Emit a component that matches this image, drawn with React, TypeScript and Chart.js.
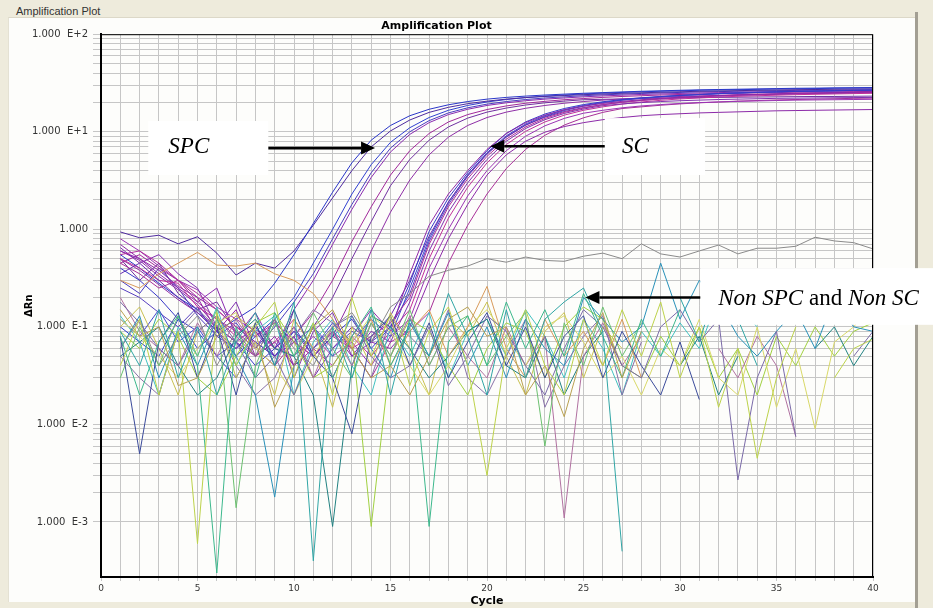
import React, { useEffect, useRef } from 'react';
import { Chart, registerables } from 'chart.js';

Chart.register(...registerables);

// ---------------- data ----------------
const cycles = [1,2,3,4,5,6,7,8,9,10,11,12,13,14,15,16,17,18,19,20,21,22,23,24,25,26,27,28,29,30,31,32,33,34,35,36,37,38,39,40];

// SPC amplification curves
const spc1 = [0.55,0.40,0.28,0.20,0.15,0.09,0.12,0.16,0.28,0.55, 1.15,2.4,4.8,8.2,11.6,14.6,17.0,18.9,20.4,21.6, 22.5,23.2,23.8,24.3,24.8,25.2,25.6,26.0,26.3,26.6, 26.9,27.1,27.3,27.5,27.7,27.9,28.0,28.2,28.3,28.4];
const spc2 = [0.94,0.82,0.87,0.71,0.84,0.57,0.34,0.45,0.40,0.60, 1.1,2.1,4.0,7.0,10.2,13.2,15.8,17.8,19.4,20.6, 21.6,22.4,23.0,23.5,24.0,24.4,24.8,25.1,25.4,25.7, 26.0,26.2,26.4,26.6,26.8,27.0,27.1,27.3,27.4,27.5];
const spc3 = [0.10,0.07,0.05,0.12,0.06,0.09,0.05,0.08,0.12,0.20, 0.45,1.0,2.3,4.6,7.8,11.0,14.0,16.6,18.6,20.2, 21.4,22.4,23.2,23.8,24.4,24.9,25.3,25.7,26.0,26.3, 26.6,26.8,27.0,27.2,27.4,27.6,27.7,27.9,28.0,28.1];
const spc4 = [0.60,0.50,0.35,0.25,0.18,0.25,0.08,0.14,0.06,0.15, 0.30,0.70,1.6,3.4,6.2,9.4,12.4,15.0,17.0,18.6, 19.8,20.8,21.6,22.2,22.8,23.3,23.7,24.1,24.4,24.7, 25.0,25.2,25.4,25.6,25.8,26.0,26.1,26.3,26.4,26.5];
const spc5 = [0.45,0.55,0.40,0.30,0.20,0.15,0.10,0.07,0.05,0.08, 0.14,0.30,0.75,1.7,3.6,6.4,9.6,12.6,15.0,16.9, 18.4,19.6,20.5,21.3,21.9,22.5,23.0,23.4,23.8,24.1, 24.4,24.6,24.8,25.0,25.2,25.4,25.5,25.7,25.8,25.9];
const spc6 = [0.30,0.22,0.40,0.25,0.13,0.08,0.11,0.06,0.10,0.18, 0.35,0.80,1.8,3.8,6.8,10.0,13.0,15.6,17.6,19.2, 20.4,21.4,22.2,22.8,23.4,23.9,24.3,24.7,25.0,25.3, 25.6,25.8,26.0,26.2,26.4,26.5,26.7,26.8,26.9,27.0];
const spc7 = [0.50,0.30,0.45,0.22,0.15,0.18,0.09,0.05,0.07,0.04, 0.10,0.20,0.50,1.2,2.8,5.2,8.2,11.2,13.8,15.9, 17.5,18.8,19.8,20.6,21.3,21.5,21.7,21.9,22.1,22.2, 22.4,22.5,22.6,22.7,22.8,22.9,23.0,23.0,23.1,23.2];
const mid1 = [0.50,0.38,0.27,0.19,0.14,0.10,0.07,0.10,0.06,0.09, 0.05,0.08,0.20,0.60,1.5,3.2,5.8,8.8,11.6,14.0, 15.9,17.4,18.6,19.6,20.4,21.1,21.7,22.2,22.6,23.0, 23.3,23.6,23.9,24.1,24.3,24.5,24.7,24.9,25.0,25.1];

// SC amplification curves
const sc1 = [0.70,0.50,0.38,0.26,0.20,0.09,0.15,0.05,0.12,0.04, 0.10,0.03,0.08,0.15,0.09,0.35,1.1,2.3,4.0,6.6, 9.6,12.4,14.8,16.8,18.3,19.5,20.5,21.3,22.0,22.6, 23.1,23.5,23.9,24.2,24.5,24.8,25.0,25.2,25.4,25.6];
const sc2 = [0.40,0.30,0.20,0.12,0.09,0.05,0.07,0.04,0.06,0.10, 0.05,0.08,0.12,0.06,0.10,0.28,0.95,2.1,3.8,6.4, 9.6,12.6,15.2,17.3,19.0,20.3,21.4,22.3,23.0,23.6, 24.1,24.6,25.0,25.3,25.6,25.9,26.1,26.3,26.5,26.7];
const sc3 = [0.55,0.60,0.45,0.30,0.22,0.15,0.10,0.08,0.11,0.07, 0.05,0.09,0.06,0.08,0.11,0.20,0.70,1.7,3.3,5.6, 8.4,11.2,13.7,15.8,17.5,18.9,20.0,20.9,21.7,22.3, 22.8,23.3,23.7,24.0,24.3,24.6,24.8,25.0,25.2,25.3];
const sc4 = [0.65,0.45,0.55,0.35,0.25,0.10,0.18,0.06,0.12,0.03, 0.09,0.14,0.05,0.09,0.07,0.18,0.60,1.5,3.0,5.2, 8.0,10.8,13.3,15.4,17.1,18.5,19.3,19.9,20.4,20.8, 21.1,21.4,21.6,21.8,22.0,22.1,22.2,22.3,22.4,22.5];
const sc5 = [0.35,0.45,0.30,0.20,0.14,0.09,0.06,0.10,0.05,0.08, 0.03,0.06,0.10,0.07,0.13,0.30,0.85,1.9,3.6,6.0, 8.9,11.7,14.1,16.1,17.7,19.0,20.1,21.0,21.7,22.3, 22.8,23.3,23.7,24.0,24.3,24.6,24.8,25.0,25.2,25.4];
const sc6 = [0.50,0.40,0.30,0.28,0.16,0.12,0.08,0.05,0.07,0.12, 0.06,0.04,0.08,0.05,0.09,0.15,0.50,1.3,2.7,4.8, 7.4,10.1,12.6,14.8,16.6,18.0,19.2,20.2,21.0,21.7, 22.2,22.7,23.1,23.4,23.7,24.0,24.2,24.4,24.6,24.8];
const sc7 = [0.12,0.08,0.15,0.07,0.10,0.05,0.03,0.07,0.05,0.09, 0.06,0.11,0.07,0.12,0.08,0.25,0.80,1.9,3.6,6.1, 9.1,12.0,14.6,16.8,18.6,20.0,21.2,22.1,22.9,23.5, 24.0,24.5,24.9,25.3,25.6,25.9,26.1,26.3,26.5,26.7];
const sc8 = [0.80,0.60,0.42,0.30,0.24,0.16,0.12,0.09,0.06,0.05, 0.08,0.05,0.07,0.04,0.08,0.12,0.40,1.0,2.2,4.0, 6.4,9.0,11.5,13.7,15.5,16.6,17.6,18.4,19.0,19.5, 19.9,20.2,20.5,20.7,20.9,21.1,21.2,21.3,21.4,21.5];
const sc9 = [0.60,0.48,0.33,0.24,0.17,0.10,0.07,0.05,0.08,0.04, 0.06,0.09,0.05,0.07,0.06,0.10,0.30,0.80,1.8,3.6, 5.8,8.0,9.9,11.3,12.4,13.3,14.0,14.6,15.0,15.3, 15.6,15.8,16.0,16.2,16.4,16.5,16.6,16.7,16.8,16.9];
const sc10 = [0.45,0.35,0.25,0.30,0.18,0.12,0.09,0.06,0.04,0.07, 0.05,0.08,0.06,0.03,0.07,0.09,0.14,0.45,1.1,2.3, 4.2,6.6,9.2,11.7,13.9,15.8,17.3,18.0,18.7,19.3, 19.8,20.2,20.6,20.9,21.2,21.4,21.6,21.8,22.0,22.1];
const sc11 = [0.25,0.20,0.14,0.10,0.16,0.08,0.06,0.09,0.05,0.07, 0.10,0.06,0.09,0.07,0.10,0.22,0.75,1.8,3.5,5.9, 8.8,11.7,14.3,16.5,18.3,19.8,21.0,22.0,22.8,23.5, 24.1,24.6,25.0,25.4,25.7,26.0,26.2,26.4,26.6,26.8];

// Non SPC / Non SC (noise) curves
const n1 = [0.09,0.04,0.15,0.03,0.10,0.02,0.07,0.14,0.04,0.18, 0.0004,0.10,0.03,0.15,0.02,0.12,0.05,0.22,0.08,0.02, 0.15,0.03,0.12,0.18,0.25,0.09,0.0005,null,null,0.20, 0.07,0.30,0.12,0.04,null,null,0.11,null,null,null];
const n2 = [0.04,0.12,0.02,0.09,0.0006,0.14,0.04,0.10,0.18,0.03, 0.11,0.02,0.20,0.05,0.13,0.025,0.09,0.16,0.04,0.003, 0.06,0.15,0.04,0.02,0.12,0.04,0.15,0.05,0.18,0.03, 0.10,0.015,0.06,0.0045,0.03,0.10,null,0.03,0.06,0.075];
const n3 = [0.15,0.08,0.10,0.025,0.03,0.08,0.13,0.09,0.015,0.04, 0.10,0.15,0.06,0.03,0.04,0.02,0.05,0.12,0.16,0.08, 0.10,0.02,0.04,0.012,0.06,0.14,0.03,0.09,null,null, null,null,null,null,null,null,null,null,null,null];
const n4 = [0.08,0.02,0.07,0.13,0.04,0.0003,0.10,0.03,0.14,0.05, 0.11,0.03,0.08,0.16,0.04,0.10,0.0009,0.07,0.13,0.04, 0.18,0.06,0.15,0.05,0.22,0.08,0.03,0.12,0.05,0.15, null,null,null,null,null,null,null,null,null,null];
const n5 = [0.18,0.11,0.06,0.04,0.09,0.13,0.07,0.03,0.05,0.02, 0.06,0.10,0.13,0.05,0.03,0.04,0.10,0.025,0.05,0.13, 0.09,0.04,0.02,0.06,0.15,0.10,0.04,0.03,0.10,0.15, 0.07,0.12,0.0027,0.03,0.09,0.0075,null,null,0.05,0.09];
const n6 = [0.08,0.005,0.07,0.14,0.03,0.10,0.02,0.11,0.04,0.15, 0.05,0.03,0.008,0.08,0.13,0.04,0.11,0.03,0.07,0.14, 0.04,0.10,0.03,0.08,0.13,0.03,0.09,0.04,0.02,0.07, 0.018,null,null,null,null,null,null,null,null,null];
const n7 = [0.30,0.25,0.35,0.45,0.58,0.43,0.42,0.45,0.35,0.30, 0.22,0.12,0.06,0.12,0.04,0.09,0.15,0.05,0.10,0.26, 0.06,0.03,0.12,0.05,0.09,0.04,0.12,0.03,null,null, null,null,null,null,null,null,null,null,null,null];
const n8 = [0.03,0.10,0.04,0.13,0.05,0.15,0.0014,0.04,0.11,0.05, 0.14,0.06,0.03,0.11,0.05,0.15,0.04,0.10,0.13,0.04, 0.08,0.14,0.006,0.11,0.04,0.16,0.05,0.11,null,null, null,null,null,null,null,null,null,null,null,null];
const n9 = [0.06,0.12,0.04,0.08,0.13,0.04,0.09,0.05,0.12,0.06, 0.04,0.10,0.14,0.07,0.16,0.22,0.33,0.38,0.42,0.50, 0.46,0.52,0.48,0.47,0.53,0.57,0.50,0.71,0.56,0.52, 0.60,0.69,0.56,0.64,0.64,0.67,0.83,0.76,0.73,0.63];
const n10 = [0.06,0.13,0.03,0.09,0.04,0.12,0.05,0.02,0.0018,0.04, 0.10,0.05,0.13,0.06,0.03,0.11,0.05,0.14,0.04,0.10, 0.03,0.12,0.06,0.04,0.20,0.12,0.07,0.10,0.45,0.12, 0.30,0.18,0.08,0.05,0.09,0.15,0.06,0.20,0.10,0.09];
const n11 = [0.12,0.08,0.05,0.03,0.06,0.11,0.14,0.06,0.04,0.02, 0.05,0.10,0.07,0.13,0.09,0.04,0.02,0.04,0.10,0.15, 0.08,0.04,0.10,0.13,0.07,0.03,0.05,0.02,0.06,0.04, 0.12,0.03,0.02,0.10,0.015,0.06,0.009,0.07,0.10,0.18];
const n12 = [0.20,0.09,0.06,0.04,0.11,0.05,0.12,0.06,0.04,0.10, 0.03,0.09,0.04,0.11,0.05,0.13,0.04,0.10,0.05,0.03, 0.10,0.04,0.08,0.0011,0.05,0.11,0.04,0.08,null,null, null,0.06,0.03,0.08,0.04,0.0075,null,null,null,null];
const n13 = [0.05,0.07,0.10,0.04,0.02,0.03,0.08,0.12,0.06,0.05, 0.02,0.0009,0.04,0.13,0.10,0.06,0.03,0.05,0.09,0.12, 0.04,0.03,0.08,0.02,0.05,0.09,null,null,null,0.04, 0.08,0.02,0.05,null,null,null,0.06,0.10,0.04,0.08];
const n14 = [0.09,0.06,0.12,0.08,0.03,0.02,0.05,0.11,0.14,0.07, 0.03,0.04,0.08,0.0009,0.05,0.12,0.09,0.04,0.02,0.06, 0.11,0.09,0.03,0.10,0.16,0.12,0.04,0.03,0.08,0.04, 0.10,0.03,0.06,0.02,0.08,0.04,0.10,0.05,0.09,0.11];
const n15 = [0.10,0.16,0.06,0.02,0.09,0.13,0.03,0.07,0.02,0.12, 0.06,0.015,0.10,0.04,0.14,0.06,0.02,0.12,0.08,0.18, 0.05,0.02,0.09,0.14,0.03,0.10,0.06,null,null,null, null,null,null,null,null,null,null,null,null,null];
const n16 = [0.05,0.03,0.02,0.09,0.15,0.10,0.04,0.02,0.03,0.08, 0.15,0.11,0.06,0.03,0.12,0.08,0.05,0.15,0.03,0.02, 0.05,0.12,0.015,0.04,0.08,0.13,0.02,0.07,null,null, null,null,null,null,null,null,null,null,null,null];
const n17 = [0.13,0.07,0.02,0.10,0.05,0.16,0.04,0.09,0.13,0.02, 0.07,0.12,0.04,0.02,0.10,0.05,0.14,0.03,0.09,0.12, 0.05,0.15,0.08,0.03,0.12,0.06,0.02,0.09,0.05,0.11, 0.06,0.20,0.16,0.10,null,null,null,null,null,null];

// axis ticks
const yDecades = [0.001, 0.01, 0.1, 1, 10, 100];
const yDecadeLabels = ['1.000  E-3', '1.000  E-2', '1.000  E-1', '1.000', '1.000  E+1', '1.000  E+2'];
const yMinorSteps = [1, 2, 3, 4, 5, 6, 7, 8, 9];
const yMin = 2.73e-4;
const yMax = 100;
const xMin = 0;
const xMax = 40;
const xLabelEvery = 5;

// series list (drawn in this order: noise first, then amplification curves)
const seriesList = [
  { name: 'n1', values: n1, color: '#2FA5A5' },
  { name: 'n2', values: n2, color: '#BCD24A' },
  { name: 'n3', values: n3, color: '#B8A050' },
  { name: 'n4', values: n4, color: '#3CB88C' },
  { name: 'n5', values: n5, color: '#7A6AA8' },
  { name: 'n6', values: n6, color: '#3A4A9A' },
  { name: 'n7', values: n7, color: '#D89A5A' },
  { name: 'n8', values: n8, color: '#6CC070' },
  { name: 'n9', values: n9, color: '#8A8A8A' },
  { name: 'n10', values: n10, color: '#2890B8' },
  { name: 'n11', values: n11, color: '#D8D868' },
  { name: 'n12', values: n12, color: '#B070A0' },
  { name: 'n13', values: n13, color: '#208080' },
  { name: 'n14', values: n14, color: '#A0D040' },
  { name: 'n15', values: n15, color: '#C8C050' },
  { name: 'n16', values: n16, color: '#8870A8' },
  { name: 'n17', values: n17, color: '#40C0C0' },
  { name: 'sc1', values: sc1, color: '#9028A8' },
  { name: 'sc2', values: sc2, color: '#3838C8' },
  { name: 'sc3', values: sc3, color: '#B0309C' },
  { name: 'sc4', values: sc4, color: '#8030B0' },
  { name: 'sc5', values: sc5, color: '#6A2CB0' },
  { name: 'sc6', values: sc6, color: '#C0309A' },
  { name: 'sc7', values: sc7, color: '#4048D0' },
  { name: 'sc8', values: sc8, color: '#9A34B4' },
  { name: 'sc9', values: sc9, color: '#8C2AA8' },
  { name: 'sc10', values: sc10, color: '#A83098' },
  { name: 'sc11', values: sc11, color: '#5840C0' },
  { name: 'mid1', values: mid1, color: '#8E2EA6' },
  { name: 'spc1', values: spc1, color: '#2A36C8' },
  { name: 'spc2', values: spc2, color: '#4E2A9E' },
  { name: 'spc3', values: spc3, color: '#3040D0' },
  { name: 'spc4', values: spc4, color: '#8A2BB0' },
  { name: 'spc5', values: spc5, color: '#A0289A' },
  { name: 'spc6', values: spc6, color: '#4A3CC0' },
  { name: 'spc7', values: spc7, color: '#7030A0' },
];

// callouts (in data coordinates: cycles / ΔRn)
const callouts = [
  { box: { x0: 2.45, x1: 8.67, y0: 12.9, y1: 3.6 }, text: { x: 3.49, y: 6.05 }, parts: [['SPC', true]], arrow: { from: 8.67, to: 14.2, y: 6.8 } },
  { box: { x0: 26.1, x1: 31.3, y0: 13.8, y1: 3.6 }, text: { x: 27.0, y: 6.05 }, parts: [['SC', true]], arrow: { from: 26.1, to: 20.17, y: 7.1 } },
  { box: { x0: 31.05, x1: 43.3, y0: 0.40, y1: 0.105 }, text: { x: 31.98, y: 0.168 }, parts: [['Non SPC', true], [' and ', false], ['Non SC', true]], arrow: { from: 31.05, to: 25.1, y: 0.2 } },
];

const calloutPlugin = {
  id: 'callouts',
  afterDatasetsDraw(chart: any) {
    const { ctx, chartArea: a, scales } = chart;
    const xs = scales.x;
    const ys = scales.y;
    ctx.save();
    ctx.strokeStyle = '#000';
    ctx.lineWidth = 1;
    ctx.strokeRect(a.left + 0.5, a.top + 0.5, a.right - a.left - 1, a.bottom - a.top - 1);
    for (const c of callouts) {
      const bx0 = xs.getPixelForValue(c.box.x0);
      const bx1 = xs.getPixelForValue(c.box.x1);
      const by0 = ys.getPixelForValue(c.box.y0);
      const by1 = ys.getPixelForValue(c.box.y1);
      ctx.fillStyle = '#FFFFFF';
      ctx.fillRect(bx0, by0, bx1 - bx0, by1 - by0);
      let tx = xs.getPixelForValue(c.text.x);
      const ty = ys.getPixelForValue(c.text.y);
      ctx.fillStyle = '#000';
      ctx.textBaseline = 'alphabetic';
      ctx.textAlign = 'left';
      for (const [t, it] of c.parts as any) {
        ctx.font = (it ? 'italic ' : '') + '23px "Liberation Serif", "Times New Roman", serif';
        ctx.fillText(t, tx, ty);
        tx += ctx.measureText(t).width;
      }
      const ax0 = xs.getPixelForValue(c.arrow.from);
      const ax1 = xs.getPixelForValue(c.arrow.to);
      const ay = ys.getPixelForValue(c.arrow.y);
      const dir = ax1 > ax0 ? 1 : -1;
      const head = 14;
      ctx.strokeStyle = '#000';
      ctx.lineWidth = 2.6;
      ctx.beginPath();
      ctx.moveTo(ax0, ay);
      ctx.lineTo(ax1 - dir * head, ay);
      ctx.stroke();
      ctx.beginPath();
      ctx.moveTo(ax1, ay);
      ctx.lineTo(ax1 - dir * head, ay - 6.5);
      ctx.lineTo(ax1 - dir * head, ay + 6.5);
      ctx.closePath();
      ctx.fillStyle = '#000';
      ctx.fill();
    }
    ctx.restore();
  },
};

const tickFont = { family: '"DejaVu Sans", Verdana, sans-serif', size: 10 };
const titleFont = { family: '"DejaVu Sans", Verdana, sans-serif', size: 11, weight: 'bold' as const };
const gridColor = '#C6C6C6';

export default function App() {
  const ref = useRef<HTMLCanvasElement>(null);

  useEffect(() => {
    if (!ref.current) return;
    const datasets = seriesList.map((s) => ({
      label: s.name,
      data: cycles.map((c, i) => ({ x: c, y: s.values[i] })),
      borderColor: s.color,
      backgroundColor: s.color,
      borderWidth: 1,
      pointRadius: 0,
      tension: 0,
      spanGaps: false,
    }));
    const yTickValues: number[] = [];
    for (const d of yDecades) {
      for (const m of yMinorSteps) {
        const v = d * m;
        if (v >= yMin && v <= yMax * 1.0000001) yTickValues.push(v);
      }
    }
    const chart = new Chart(ref.current, {
      type: 'line',
      data: { datasets },
      plugins: [calloutPlugin],
      options: {
        responsive: false,
        animation: false,
        events: [],
        layout: { padding: { left: 0, right: 60, top: 0, bottom: 0 } },
        plugins: {
          legend: { display: false },
          tooltip: { enabled: false },
          title: {
            display: true,
            text: 'Amplification Plot',
            font: titleFont,
            color: '#000',
            padding: { top: 20, bottom: 1 },
          },
        },
        scales: {
          x: {
            type: 'linear',
            min: xMin,
            max: xMax,
            afterFit: (s: any) => { s.height = 31; },
            ticks: {
              stepSize: 1,
              autoSkip: false,
              maxRotation: 0,
              padding: 2,
              font: { ...tickFont, size: 9 },
              color: '#333',
              callback: (v: any) => (Math.round(v) % xLabelEvery === 0 ? String(Math.round(v)) : ''),
            },
            grid: { color: gridColor, tickLength: 4 },
            border: { color: '#000', width: 2 },
            title: { display: true, text: 'Cycle', font: titleFont, color: '#000', padding: { top: 0, bottom: 0 } },
          },
          y: {
            type: 'logarithmic',
            min: yMin,
            max: yMax,
            afterFit: (s: any) => { s.width = 101; },
            afterBuildTicks: (s: any) => { s.ticks = yTickValues.map((v) => ({ value: v })); },
            ticks: {
              autoSkip: false,
              padding: 5,
              font: tickFont,
              color: '#333',
              callback: (v: any) => {
                const idx = yDecades.findIndex((d) => Math.abs(d - v) / d < 1e-6);
                return idx >= 0 ? yDecadeLabels[idx] : '';
              },
            },
            grid: { color: gridColor, tickLength: 8 },
            border: { color: '#000', width: 2 },
            title: { display: true, text: 'ΔRn', font: { ...titleFont, size: 10 }, color: '#000', padding: { top: 23, bottom: 0 } },
          },
        },
      } as any,
    });
    return () => chart.destroy();
  }, []);

  return (
    <div style={{ position: 'fixed', left: 0, top: 0, width: 933, height: 608, background: '#EEEBDC', overflow: 'hidden' }}>
      <div style={{ position: 'absolute', left: 8, top: 17, width: 906, height: 584, background: '#FDFDFB', borderTop: '1px solid #DCD8C8', borderLeft: '1px solid #E4E1D3' }} />
      <div style={{ position: 'absolute', left: 915, top: 12, width: 3, height: 596, background: '#A39F93' }} />
      <div style={{ position: 'absolute', left: 14, top: 5, font: '11px "Liberation Sans", Arial, sans-serif', color: '#333', background: '#EEEBDC', padding: '0 2px' }}>Amplification Plot</div>
      <canvas ref={ref} width={933} height={608} style={{ position: 'absolute', left: 0, top: 0, width: 933, height: 608 }} />
    </div>
  );
}
